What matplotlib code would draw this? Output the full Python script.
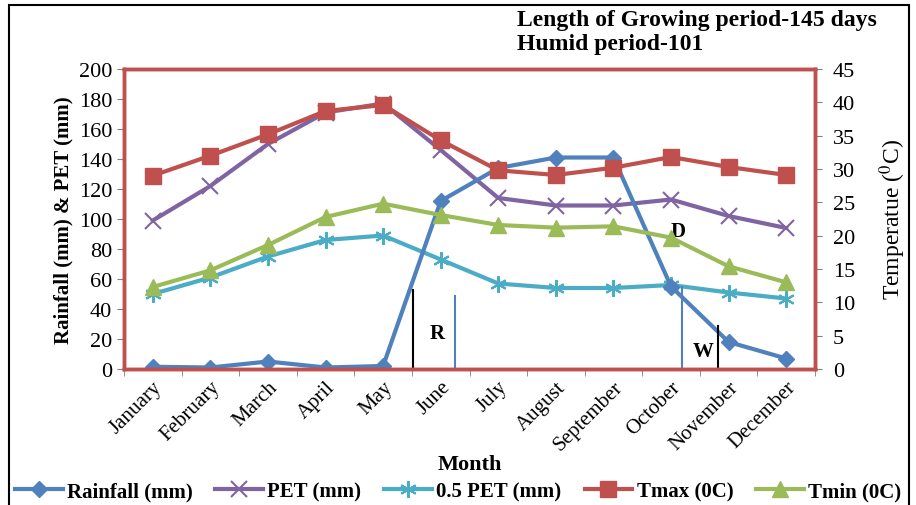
import matplotlib as mpl
import matplotlib.pyplot as plt
from matplotlib.patches import Rectangle

mpl.rcParams['font.family'] = 'Liberation Serif'
mpl.rcParams['mathtext.fontset'] = 'stix'
mpl.rcParams['font.size'] = 14

months = ['January', 'February', 'March', 'April', 'May', 'June', 'July',
          'August', 'September', 'October', 'November', 'December']
rainfall = [1.5, 1, 5, 1, 2, 112, 134, 141, 141, 55, 18, 7]
pet = [99, 122, 150, 171, 177, 146, 114, 109, 109, 113, 102, 94]
half_pet = [50, 61, 75, 86, 89, 73, 57, 54, 54, 56, 51, 47]
tmax = [29, 32, 35.2, 38.7, 39.6, 34.3, 29.8, 29.1, 30.2, 31.8, 30.3, 29.1]
tmin = [12.3, 14.8, 18.6, 22.8, 24.8, 23.1, 21.6, 21.2, 21.4, 19.7, 15.4, 13.0]

# period markers: (x in month index, top in mm, colour)
period_lines = [(4.52, 53, 'black'), (5.25, 49, '#4F81BD'),
                (9.19, 55, '#4F81BD'), (9.82, 29, 'black')]
period_labels = [('R', 4.94, 24), ('D', 9.12, 92), ('W', 9.55, 12)]

red = '#C0504D'
x = range(len(months))

fig = plt.figure(figsize=(9.16, 5.06), dpi=100)
ax = fig.add_axes([124 / 916, 136 / 506, 691 / 916, 300 / 506])
ax2 = ax.twinx()

lw = 3
ax.plot(x, pet, color='#8064A2', lw=lw, marker='x', ms=11, mew=1.5,
        label='PET (mm)')
ax.plot(x, half_pet, color='#4BACC6', lw=lw, marker=(6, 2, 0), ms=12,
        mew=1.5, label='0.5 PET (mm)')
ax.plot(x, rainfall, color='#4F81BD', lw=lw, marker='D', ms=8,
        label='Rainfall (mm)')
ax2.plot(x, tmax, color=red, lw=lw, marker='s', ms=11, label='Tmax (0C)')
ax2.plot(x, tmin, color='#9BBB59', lw=lw, marker='^', ms=11,
         label='Tmin (0C)')

for xv, top, c in period_lines:
    ax.plot([xv, xv], [0, top], color=c, lw=1.5)
for txt, xv, yv in period_labels:
    ax.text(xv, yv, txt, fontsize=15, fontweight='bold', ha='center',
            va='center')

ax.set_xlim(-0.5, len(months) - 0.5)
ax.set_ylim(0, 200)
ax.set_yticks(range(0, 201, 20))
ax2.set_ylim(0, 45)
ax2.set_yticks(range(0, 46, 5))

ax.set_xticks(x)
ax.set_xticklabels(months, rotation=45, ha='right', rotation_mode='anchor',
                   fontsize=15)
ax.set_xticks([i - 0.5 for i in range(len(months) + 1)], minor=True)
ax.tick_params(axis='x', which='major', length=0, pad=6)
ax.tick_params(axis='x', which='minor', length=5, color='gray')
ax.tick_params(axis='y', length=5, color='gray', labelsize=16)
ax2.tick_params(axis='y', length=5, color='gray', labelsize=16, pad=8)

for a in (ax, ax2):
    for s in a.spines.values():
        s.set_color(red)
        s.set_linewidth(2.5)

ax.set_xlabel('Month', fontsize=16, fontweight='bold', labelpad=0)
ax.set_ylabel('Rainfall (mm) & PET (mm)', fontsize=15, fontweight='bold',
              labelpad=4)
ax2.set_ylabel('Temperatue ($^0$C)', fontsize=17, labelpad=16)

fig.text(517 / 916, 1 - 10 / 506, 'Length of Growing period-145 days\nHumid period-101',
         fontsize=17, fontweight='bold', va='top', ha='left', linespacing=1.2)

h1, l1 = ax.get_legend_handles_labels()
h2, l2 = ax2.get_legend_handles_labels()
order = [2, 0, 1]
handles = [h1[i] for i in order] + h2
labels = [l1[i] for i in order] + l2
fig.legend(handles, labels, loc='center', bbox_to_anchor=(0.5, 1 - 492 / 506),
           ncol=5, frameon=False, prop={'weight': 'bold', 'size': 15},
           handlelength=2.3, columnspacing=1.1, handletextpad=0.2,
           borderaxespad=0)

fig.patches.append(Rectangle((9 / 916, -0.02), 900 / 916, 1.02 - 6 / 506,
                             transform=fig.transFigure, fill=False,
                             edgecolor='black', lw=1.5))

fig.savefig('out.png', dpi=100)
